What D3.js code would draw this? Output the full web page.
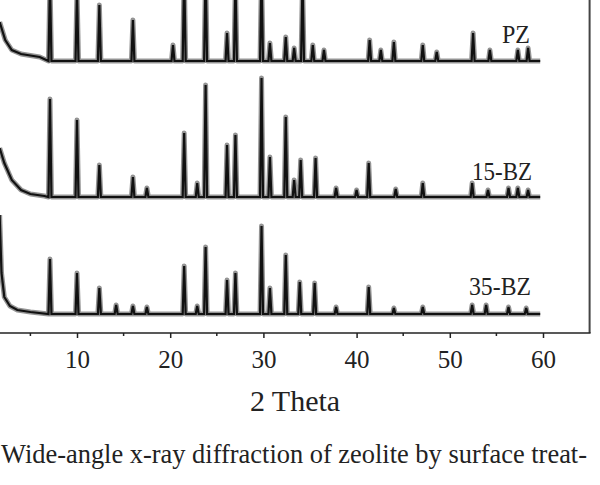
<!DOCTYPE html>
<html>
<head>
<meta charset="utf-8">
<script src="https://cdn.jsdelivr.net/npm/d3@7"></script>
<style>
  body { margin: 0; background: #fff; }
  svg { display: block; }
  svg text { font-family: "Liberation Serif", "Times New Roman", serif; }
</style>
</head>
<body>
<svg id="xrd"></svg>
<script>
const width = 600, height = 485;

// ticks on the 2 Theta axis
const majorTicks = [10, 20, 30, 40, 50, 60];
const minorTicks = [5, 15, 25, 35, 45, 55];

// sample names, stacking offset and flat background level of each pattern
const sampleNames = ["35-BZ", "15-BZ", "PZ"];
const sampleOffsets = [0, 115, 250];
const baseLevels = [19, 21, 22];
const endTheta = 59.7;

// low angle shoulder [2theta, intensity]
const bz35Start = [[1.7, 118], [1.9, 60], [2.2, 36], [2.8, 27], [3.6, 23], [5.0, 21]];
const bz15Start = [[1.7, 70], [2.2, 55], [3.0, 38], [4.0, 28], [5.0, 24], [6.5, 22]];
const pzStart = [[1.7, 61], [2.3, 43], [3.0, 33], [4.0, 29], [6.0, 26]];

// peaks: position (2theta) and top intensity
const bz35PeakPos = [7.1, 10.0, 12.4, 14.2, 16.0, 17.5, 21.5, 22.9, 23.8, 26.1, 27.0, 29.8, 30.7, 32.4, 33.9, 35.5, 37.8, 41.3, 44.0, 47.1, 52.4, 53.9, 56.3, 58.2];
const bz35PeakInt = [74, 60, 45, 28, 27, 26, 67, 27, 86, 53, 60, 107, 45, 78, 51, 50, 26, 46, 25, 26, 28, 28, 26, 25];

const bz15PeakPos = [7.1, 10.0, 12.4, 16.0, 17.5, 21.5, 22.9, 23.8, 26.1, 27.0, 29.8, 30.7, 32.4, 33.3, 34.0, 35.6, 37.8, 40.0, 41.3, 44.2, 47.1, 52.4, 54.1, 56.3, 57.3, 58.4];
const bz15PeakInt = [119, 98, 53, 41, 30, 85, 35, 133, 73, 83, 140, 61, 101, 38, 58, 60, 30, 28, 55, 29, 35, 35, 28, 30, 30, 28];

const pzPeakPos = [7.1, 10.0, 12.4, 16.0, 20.3, 21.5, 23.8, 26.1, 27.0, 29.8, 30.7, 32.4, 33.3, 34.2, 35.3, 36.5, 41.4, 42.6, 44.0, 47.1, 48.6, 52.5, 54.3, 57.3, 58.4];
const pzPeakInt = [103, 93, 78, 63, 38, 113, 113, 50, 103, 113, 40, 46, 35, 103, 38, 33, 43, 33, 41, 38, 31, 50, 33, 33, 35];

const samples = [
  { start: bz35Start, pos: bz35PeakPos, val: bz35PeakInt },
  { start: bz15Start, pos: bz15PeakPos, val: bz15PeakInt },
  { start: pzStart, pos: pzPeakPos, val: pzPeakInt }
];

const x = d3.scaleLinear().domain([10, 60]).range([77, 543]);
const y = d3.scaleLinear().domain([0, 333]).range([333, 0]);

const svg = d3.select("#xrd")
              .attr("width", width)
              .attr("height", height);

// build one polyline per pattern from the shoulder and the peak list
function patternPoints(s, i) {
  const base = baseLevels[i];
  const pts = s.start.slice();
  s.pos.forEach((p, k) => {
    pts.push([p - 0.16, base], [p, s.val[k]], [p + 0.16, base]);
  });
  pts.push([endTheta, base]);
  return pts;
}

const traces = svg.append("g");
samples.forEach((s, i) => {
  const pts = patternPoints(s, i);
  const off = sampleOffsets[i];
  const line = d3.line().x(d => x(d[0])).y(d => y(d[1] + off));
  // dark band for the counting noise
  traces.append("path")
        .attr("d", line(pts))
        .attr("fill", "none")
        .attr("stroke", "#111")
        .attr("stroke-opacity", 0.45)
        .attr("stroke-width", 5)
        .attr("stroke-linejoin", "round");
  traces.append("path")
        .attr("d", line(pts))
        .attr("fill", "none")
        .attr("stroke", "#111")
        .attr("stroke-width", 2.2)
        .attr("stroke-linejoin", "miter");
});

// sample labels
const labelX = [469, 472, 502];
const labelY = [295, 180, 43];
const labelW = [62, 60, 28];
svg.selectAll(".sample")
   .data(sampleNames)
   .enter()
   .append("text")
   .attr("class", "sample")
   .attr("x", (d, i) => labelX[i])
   .attr("y", (d, i) => labelY[i])
   .attr("font-size", 25)
   .attr("textLength", (d, i) => labelW[i])
   .attr("lengthAdjust", "spacingAndGlyphs")
   .attr("fill", "#222")
   .text(d => d);

// right frame
svg.append("line")
   .attr("x1", x(65)).attr("x2", x(65))
   .attr("y1", 0).attr("y2", y(0))
   .attr("stroke", "#444")
   .attr("stroke-width", 2);

// x axis
const axis = svg.append("g")
                .attr("transform", `translate(0,${y(0)})`)
                .call(d3.axisBottom(x).tickValues(majorTicks).tickSize(5).tickPadding(12));
axis.select(".domain").remove();
axis.attr("font-family", null);
axis.append("line")
    .attr("x1", 0).attr("x2", x(65) + 1)
    .attr("stroke", "#222")
    .attr("stroke-width", 1.6);
axis.selectAll(".tick line").attr("stroke", "#222").attr("stroke-width", 1.5);
axis.selectAll(".tick text")
    .style("font-family", "'Liberation Serif', serif")
    .attr("font-size", 25)
    .attr("fill", "#222");
axis.selectAll(".minor")
    .data(minorTicks)
    .enter()
    .append("line")
    .attr("class", "minor")
    .attr("x1", d => x(d)).attr("x2", d => x(d))
    .attr("y1", 0).attr("y2", 3)
    .attr("stroke", "#222")
    .attr("stroke-width", 1.5);

svg.append("text")
   .attr("x", 295)
   .attr("y", 411)
   .attr("text-anchor", "middle")
   .attr("font-size", 30)
   .attr("fill", "#222")
   .text("2 Theta");

svg.append("text")
   .attr("x", 1)
   .attr("y", 463)
   .attr("font-size", 28)
   .attr("textLength", 586)
   .attr("lengthAdjust", "spacingAndGlyphs")
   .attr("fill", "#222")
   .text("Wide-angle x-ray diffraction of zeolite by surface treat-");
</script>
</body>
</html>
